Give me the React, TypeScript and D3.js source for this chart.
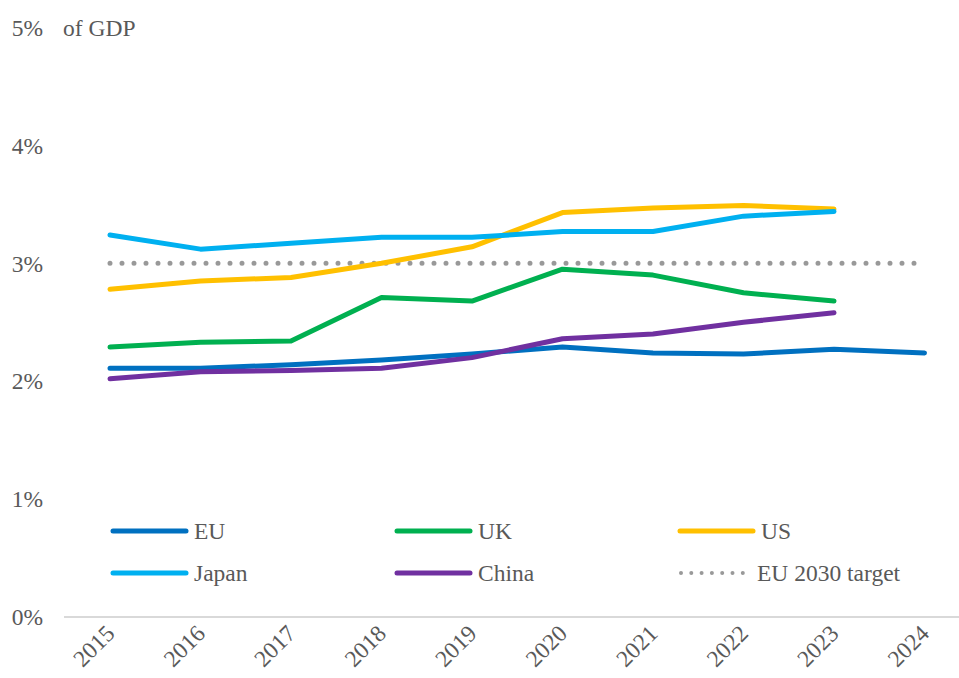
import * as d3 from 'd3';
import React, { useEffect, useRef } from 'react';

const years = [2015, 2016, 2017, 2018, 2019, 2020, 2021, 2022, 2023, 2024];
const yTicks = [0, 1, 2, 3, 4, 5];

const euValues = [2.11, 2.11, 2.14, 2.18, 2.23, 2.29, 2.24, 2.23, 2.27, 2.24];
const ukValues = [2.29, 2.33, 2.34, 2.71, 2.68, 2.95, 2.9, 2.75, 2.68];
const usValues = [2.78, 2.85, 2.88, 3.0, 3.14, 3.43, 3.47, 3.49, 3.46];
const japanValues = [3.24, 3.12, 3.17, 3.22, 3.22, 3.27, 3.27, 3.4, 3.44];
const chinaValues = [2.02, 2.08, 2.09, 2.11, 2.2, 2.36, 2.4, 2.5, 2.58];
const targetValue = 3;

const seriesNames = ['EU', 'UK', 'US', 'Japan', 'China'];
const seriesColors = ['#0070C0', '#00B050', '#FFC000', '#00B0F0', '#7030A0'];

const App: React.FC = () => {
  const svgRef = useRef<SVGSVGElement | null>(null);

  useEffect(() => {
    if (!svgRef.current) return;
    const svg = d3.select(svgRef.current);
    svg.selectAll('*').remove();

    const width = 959;
    const height = 678;
    const textColor = '#595959';
    const font = '"Liberation Serif", "Times New Roman", serif';
    const fontSize = 23.5;

    const x = d3.scalePoint<number>().domain(years).range([110, 924.5]);
    const y = d3.scaleLinear().domain([0, 5]).range([617, 27.5]);

    svg.attr('width', width).attr('height', height);

    // baseline
    svg
      .append('line')
      .attr('x1', 64)
      .attr('x2', 959)
      .attr('y1', y(0))
      .attr('y2', y(0))
      .attr('stroke', '#d9d9d9')
      .attr('stroke-width', 2);

    // y tick labels
    svg
      .selectAll('text.ytick')
      .data(yTicks)
      .enter()
      .append('text')
      .attr('class', 'ytick')
      .attr('x', 43)
      .attr('y', (d) => y(d))
      .attr('dy', '0.35em')
      .attr('text-anchor', 'end')
      .attr('font-family', font)
      .attr('font-size', fontSize)
      .attr('fill', textColor)
      .text((d) => `${d}%`);

    svg
      .append('text')
      .attr('x', 63)
      .attr('y', y(5))
      .attr('dy', '0.35em')
      .attr('font-family', font)
      .attr('font-size', fontSize)
      .attr('fill', textColor)
      .text('of GDP');

    // x tick labels, rotated
    svg
      .selectAll('text.xtick')
      .data(years)
      .enter()
      .append('text')
      .attr('class', 'xtick')
      .attr('transform', (d) => `translate(${(x(d) ?? 0) + 6}, ${635}) rotate(-45)`)
      .attr('text-anchor', 'end')
      .attr('font-family', font)
      .attr('font-size', fontSize)
      .attr('fill', textColor)
      .text((d) => d);

    // target line
    const target = years.map((yr) => ({ yr, v: targetValue }));
    const line = d3
      .line<{ yr: number; v: number }>()
      .x((d) => x(d.yr) ?? 0)
      .y((d) => y(d.v));

    svg
      .append('path')
      .datum(target)
      .attr('fill', 'none')
      .attr('stroke', '#999999')
      .attr('stroke-width', 5)
      .attr('stroke-linecap', 'round')
      .attr('stroke-dasharray', '0 12')
      .attr('d', line);

    const allValues = [euValues, ukValues, usValues, japanValues, chinaValues];
    allValues.forEach((values, i) => {
      const data = values.map((v, j) => ({ yr: years[j], v }));
      svg
        .append('path')
        .datum(data)
        .attr('fill', 'none')
        .attr('stroke', seriesColors[i])
        .attr('stroke-width', 5)
        .attr('stroke-linecap', 'round')
        .attr('stroke-linejoin', 'round')
        .attr('d', line);
    });

    // legend
    const legendItems = [
      ...seriesNames.map((name, i) => ({ name, color: seriesColors[i], dotted: false })),
      { name: 'EU 2030 target', color: '#999999', dotted: true },
    ];
    const colX = [113, 397, 680];
    const rowY = [531, 573];

    const legend = svg
      .selectAll('g.legend')
      .data(legendItems)
      .enter()
      .append('g')
      .attr('class', 'legend')
      .attr('transform', (_, i) => `translate(${colX[i % 3]}, ${rowY[Math.floor(i / 3)]})`);

    legend
      .append('line')
      .attr('x1', (d) => (d.dotted ? 1 : 0))
      .attr('x2', (d) => (d.dotted ? 64 : 73))
      .attr('y1', 0)
      .attr('y2', 0)
      .attr('stroke', (d) => d.color)
      .attr('stroke-width', (d) => (d.dotted ? 4 : 5))
      .attr('stroke-linecap', 'round')
      .attr('stroke-dasharray', (d) => (d.dotted ? '0 10.3' : null));

    legend
      .append('text')
      .attr('x', (d) => (d.dotted ? 77 : 81))
      .attr('y', 0)
      .attr('dy', '0.35em')
      .attr('font-family', font)
      .attr('font-size', fontSize)
      .attr('fill', textColor)
      .text((d) => d.name);
  }, []);

  return (
    <div style={{ position: 'absolute', left: 0, top: 0 }}>
      <svg ref={svgRef} style={{ display: 'block' }}></svg>
    </div>
  );
};

export default App;
